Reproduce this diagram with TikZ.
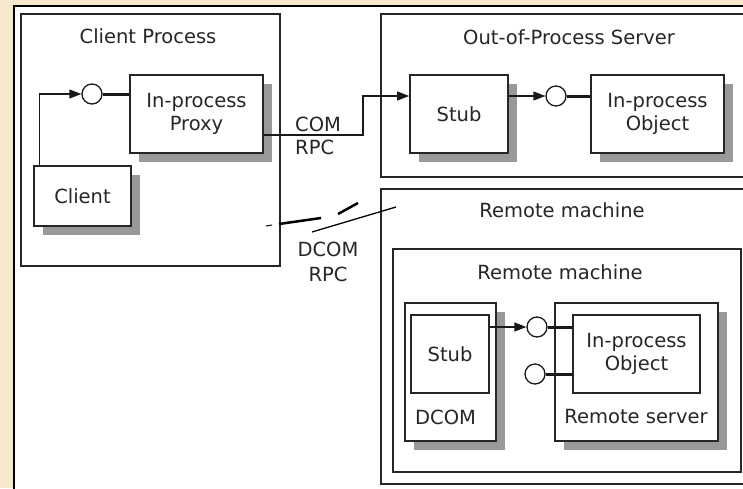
\documentclass[tikz,border=0pt]{standalone}
\usepackage{fontspec}
\setmainfont{DejaVu Sans}
\usetikzlibrary{arrows.meta,shadows,positioning,calc}
\definecolor{parch}{RGB}{246,232,204}

\begin{document}
\begin{tikzpicture}[x=1pt, y=-1pt,
  every node/.style={font=\fontsize{19.5}{23.5}\selectfont, text=black!85},
  frame/.style={draw=black!85, line width=1.6pt, inner sep=0pt},
  box/.style={frame, fill=white, align=center},
  shbox/.style={box, general shadow={fill=gray!80, shadow xshift=9pt, shadow yshift=-9pt}},
  conn/.style={draw=black!90, line width=1.3pt, -{Triangle[length=12pt, width=9pt]}},
  lolly/.style={draw=black!90, line width=1.3pt, circle, minimum size=20pt, inner sep=0pt},
  stick/.style={draw=black!90, line width=3pt},
  title/.style={inner sep=0pt}]
  % Page and white sheet
  \useasboundingbox (0,0) rectangle (743,488);
  \clip (0,0) rectangle (743,488);
  \fill[parch] (0,0) rectangle (743,488);
  \draw[line width=2.5pt, fill=white] (14,6) rectangle (800,540);

  % Process frames
  \node[frame, minimum width=259pt, minimum height=252pt] (cproc) at (150.5,140) {};
  \node[frame, minimum width=389pt, minimum height=163pt] (oproc) at (575.5,95.5) {};
  \node[frame, minimum width=389pt, minimum height=295pt] (rmach) at (575.5,336.5) {};
  \node[frame, minimum width=348pt, minimum height=223pt] (rmachin) at (567,360.5) {};

  % Titles
  \node[title] (cproct) at (148,36) {Client Process};
  \node[title] (oproct) at (569,37) {Out-of-Process Server};
  \node[title] (rmacht) at (562,210) {Remote machine};
  \node[title] (rmachint) at (560,272) {Remote machine};

  % Boxes
  \node[shbox, minimum width=133pt, minimum height=78pt] (proxy) at (196.5,114) {In-process\\Proxy};
  \node[shbox, minimum width=97pt, minimum height=60pt] (client) at (82.5,196) {Client};
  \node[shbox, minimum width=98pt, minimum height=78pt] (stub) at (459,114) {Stub};
  \node[shbox, minimum width=133pt, minimum height=78pt] (obj) at (657.5,114) {In-process\\Object};
  \node[shbox, minimum width=91pt, minimum height=138pt] (dcom) at (450.5,372) {};
  \node[shbox, minimum width=163pt, minimum height=138pt] (rserver) at (636.5,372) {};
  \node[box, minimum width=78pt, minimum height=78pt] (rstub) at (450,354) {Stub};
  \node[box, minimum width=127pt, minimum height=78pt] (robj) at (636.5,354) {In-process\\Object};
  \node[title, anchor=west] (dcomt) at (415,417) {DCOM};
  \node[title] (rservert) at (636,417) {Remote server};

  % Interfaces
  \node[lolly] (c1) at (92,94) {};
  \node[lolly] (c2) at (556,96) {};
  \node[lolly] (c3) at (537,327) {};
  \node[lolly] (c4) at (535,374) {};

  % Calls
  \draw[conn] ([xshift=6pt]client.north west) |- (c1);
  \draw[stick] (c1) -- (c1 -| proxy.west);
  \coordinate (rpcbend) at (363,96);
  \draw[conn] ([yshift=-21pt]proxy.east) -| (rpcbend) -- (rpcbend -| stub.west);
  \node[title, align=left, anchor=west] (comt) at (295,136) {COM\\RPC};
  \draw[conn] (stub.east |- c2) -- (c2);
  \draw[stick] (c2) -- (c2 -| obj.west);
  \draw[conn] (rstub.east |- c3) -- (c3);
  \draw[stick] (c3) -- (c3 -| robj.west);
  \draw[stick] (c4) -- (c4 -| robj.west);

  % Broken link
  \draw[line width=1pt] (266,226) -- (272,225);
  \draw[line width=2.5pt] (279,224) -- (321,218);
  \draw[line width=2.5pt] (338,214) -- (358,203);
  \draw[line width=1.3pt] (312,232) -- (396,207);
  \node[title, align=center] (dcomrpc) at (328,262) {DCOM\\[2pt]RPC};
\end{tikzpicture}
\end{document}
